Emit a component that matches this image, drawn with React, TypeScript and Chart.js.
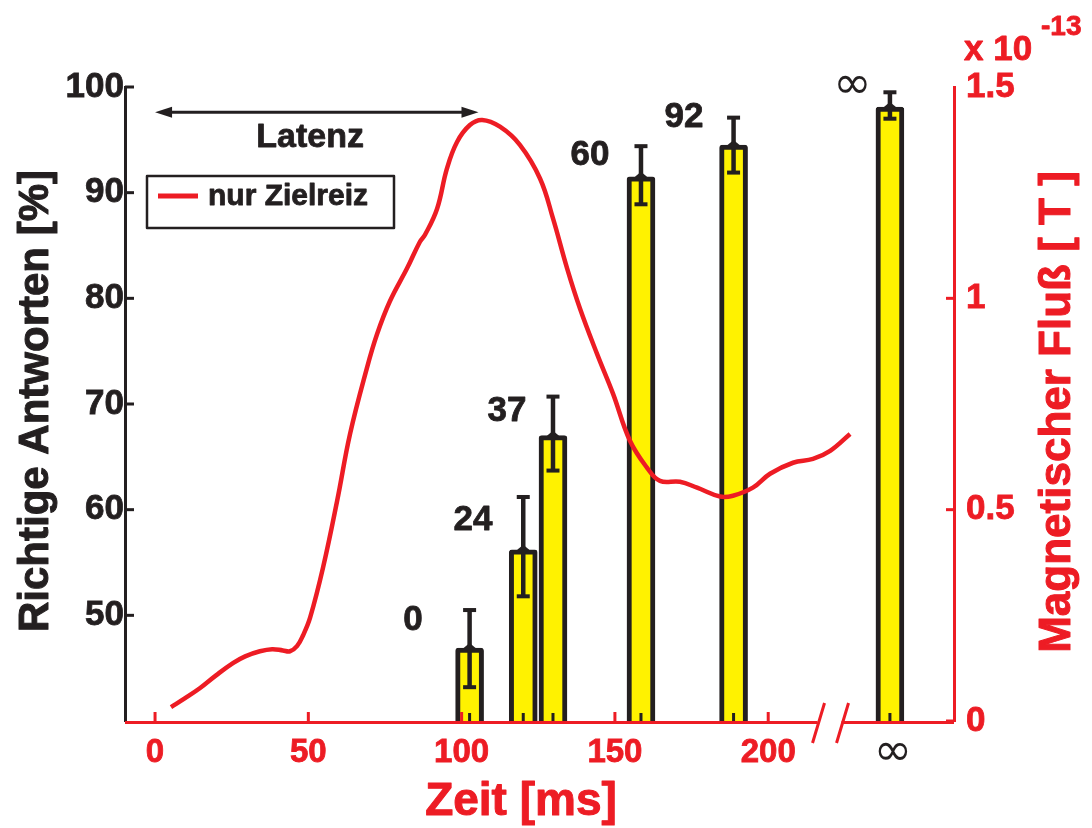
import React, { useEffect, useRef } from 'react';
import { Chart, registerables } from 'chart.js';

Chart.register(...registerables);

const RED = '#ed1c24';
const BLACK = '#231f20';
const YELLOW = '#fff200';
const FONT = '"Liberation Sans", Arial, Helvetica, sans-serif';

// Bars: correct answers [%] per SOA condition
const barLabels = ['0', '24', '37', '60', '92', '∞'];
const barX = [102.6, 120.1, 129.8, 158.5, 188.7, 239.7];
const barValues = [46.9, 56.2, 67.0, 91.5, 94.5, 98.1];
const errLow = [43.2, 51.8, 63.7, 88.9, 91.9, 97.0];
const errHigh = [50.5, 61.2, 70.7, 94.4, 97.1, 99.5];
const barLabelX = [84.1, 103.7, 114.8, 141.9, 172.5, 227.5];
const barLabelY = [49.5, 59.0, 69.3, 93.5, 97.1, 100.1];

// Magnetic flux curve (x 10^-13 T), "nur Zielreiz"
const fluxTime = [5.2, 9.8, 14.7, 19.9, 25.4, 29.4, 34.2, 38.2, 41.7, 44.0, 46.3, 48.3, 50.6, 54.8, 59.4, 63.6, 69.1, 72.4, 76.6, 82.2, 86.4, 88.1, 92.0, 95.2, 98.5, 102.7, 106.7, 112.5, 119.0, 125.6, 129.8, 134.4, 138.6, 144.2, 149.4, 154.9, 160.5, 164.7, 171.2, 176.8, 184.3, 188.5, 195.0, 200.6, 208.1, 214.6, 220.2, 226.7];
const fluxValue = [0.033, 0.054, 0.078, 0.108, 0.137, 0.153, 0.165, 0.170, 0.167, 0.165, 0.177, 0.203, 0.245, 0.363, 0.521, 0.679, 0.835, 0.915, 0.993, 1.071, 1.134, 1.151, 1.212, 1.307, 1.370, 1.410, 1.422, 1.406, 1.363, 1.283, 1.189, 1.071, 0.976, 0.868, 0.774, 0.663, 0.599, 0.568, 0.566, 0.552, 0.531, 0.533, 0.552, 0.585, 0.611, 0.620, 0.639, 0.679];

const xTicks = [0, 50, 100, 150, 200];
const yTicks = [50, 60, 70, 80, 90, 100];
const y2Ticks = [0, 0.5, 1, 1.5];
const y2TickMarks = [0, 0.5, 1];

const xBreak = 220;
const latencyStart = 0;
const latencyEnd = 105.5;
const latencyY = 97.6;
const latencyLabelX = 50.6;
const latencyLabelY = 95.2;

function boldText(ctx: any, text: string, x: number, y: number, w = 0.8) {
  ctx.lineWidth = w;
  ctx.lineJoin = 'round';
  ctx.strokeStyle = ctx.fillStyle;
  ctx.strokeText(text, x, y);
  ctx.fillText(text, x, y);
}

const overlay = {
  id: 'overlay',
  afterDatasetsDraw(chart: any) {
    const { ctx, chartArea: ca, scales } = chart;
    const x = scales.x, y = scales.y;
    ctx.save();
    barX.forEach((bx: number, i: number) => {
      ctx.fillStyle = BLACK;
      ctx.strokeStyle = BLACK;
      const px = x.getPixelForValue(bx);
      const lo = y.getPixelForValue(errLow[i]);
      const hi = y.getPixelForValue(errHigh[i]);
      ctx.lineWidth = 4.5;
      ctx.beginPath();
      ctx.moveTo(px, lo);
      ctx.lineTo(px, hi);
      ctx.stroke();
      ctx.fillRect(px - 6.5, hi - 2, 13, 4);
      ctx.fillRect(px - 6.5, lo - 2, 13, 4);
      const py = y.getPixelForValue(barValues[i]);
      ctx.beginPath();
      ctx.moveTo(px, py - 5);
      ctx.lineTo(px + 6, py);
      ctx.lineTo(px, py + 5);
      ctx.lineTo(px - 6, py);
      ctx.closePath();
      ctx.fill();
      ctx.fillRect(px - 1.5, ca.bottom - 8, 3, 8);
      // condition labels
      const lx = x.getPixelForValue(barLabelX[i]);
      const ly = y.getPixelForValue(barLabelY[i]);
      ctx.textAlign = 'center';
      ctx.textBaseline = 'middle';
      if (barLabels[i] === '∞') {
        ctx.font = '46px "DejaVu Sans", sans-serif';
        ctx.fillText(barLabels[i], lx, ly);
      } else {
        ctx.font = `bold 35px ${FONT}`;
        boldText(ctx, barLabels[i], lx, ly);
      }
    });
    ctx.restore();
  },
  afterDraw(chart: any) {
    const { ctx, chartArea: ca, scales } = chart;
    const x = scales.x, y = scales.y, y2 = scales.y2;
    ctx.save();
    // x axis line with break
    const bx = x.getPixelForValue(xBreak);
    ctx.strokeStyle = RED;
    ctx.lineWidth = 3;
    ctx.beginPath();
    ctx.moveTo(ca.left, ca.bottom + 1.5);
    ctx.lineTo(bx - 12, ca.bottom + 1.5);
    ctx.moveTo(bx + 12, ca.bottom + 1.5);
    ctx.lineTo(ca.right, ca.bottom + 1.5);
    ctx.stroke();
    ctx.lineWidth = 3;
    ctx.beginPath();
    ctx.moveTo(bx - 5, ca.bottom - 18);
    ctx.lineTo(bx - 17, ca.bottom + 22);
    ctx.moveTo(bx + 19, ca.bottom - 18);
    ctx.lineTo(bx + 7, ca.bottom + 22);
    ctx.stroke();
    // x ticks (inward)
    xTicks.forEach((v: number) => {
      const px = x.getPixelForValue(v);
      ctx.beginPath();
      ctx.moveTo(px, ca.bottom);
      ctx.lineTo(px, ca.bottom - 9);
      ctx.stroke();
    });
    // left y ticks (inward)
    ctx.strokeStyle = BLACK;
    yTicks.forEach((v: number) => {
      const py = y.getPixelForValue(v);
      ctx.beginPath();
      ctx.moveTo(ca.left, py);
      ctx.lineTo(ca.left + 9, py);
      ctx.stroke();
    });
    // right y ticks (inward)
    ctx.strokeStyle = RED;
    y2TickMarks.forEach((v: number) => {
      const py = y2.getPixelForValue(v);
      ctx.beginPath();
      ctx.moveTo(ca.right, py);
      ctx.lineTo(ca.right - 8, py);
      ctx.stroke();
    });
    // infinity label on x axis
    ctx.fillStyle = BLACK;
    ctx.textAlign = 'center';
    ctx.textBaseline = 'middle';
    ctx.font = '46px "DejaVu Sans", sans-serif';
    ctx.fillText('∞', x.getPixelForValue(barX[barX.length - 1]) + 3, ca.bottom + 32);

    // Latenz arrow
    const ax0 = x.getPixelForValue(latencyStart);
    const ax1 = x.getPixelForValue(latencyEnd);
    const ay = y.getPixelForValue(latencyY);
    ctx.strokeStyle = BLACK;
    ctx.fillStyle = BLACK;
    ctx.lineWidth = 3;
    ctx.beginPath();
    ctx.moveTo(ax0 + 10, ay);
    ctx.lineTo(ax1 - 10, ay);
    ctx.stroke();
    ctx.beginPath();
    ctx.moveTo(ax0, ay);
    ctx.lineTo(ax0 + 17, ay - 5.5);
    ctx.lineTo(ax0 + 17, ay + 5.5);
    ctx.closePath();
    ctx.fill();
    ctx.beginPath();
    ctx.moveTo(ax1, ay);
    ctx.lineTo(ax1 - 17, ay - 5.5);
    ctx.lineTo(ax1 - 17, ay + 5.5);
    ctx.closePath();
    ctx.fill();
    ctx.font = `bold 34px ${FONT}`;
    boldText(ctx, 'Latenz', x.getPixelForValue(latencyLabelX), y.getPixelForValue(latencyLabelY));

    // legend
    const lgL = ca.left + 22, lgT = ca.top + 89, lgW = 247, lgH = 52;
    ctx.lineWidth = 2.5;
    ctx.strokeStyle = BLACK;
    ctx.strokeRect(lgL, lgT, lgW, lgH);
    ctx.strokeStyle = RED;
    ctx.lineWidth = 5;
    ctx.beginPath();
    ctx.moveTo(lgL + 11, lgT + 20);
    ctx.lineTo(lgL + 51, lgT + 20);
    ctx.stroke();
    ctx.fillStyle = BLACK;
    ctx.textAlign = 'left';
    ctx.font = `bold 30px ${FONT}`;
    boldText(ctx, chart.data.datasets[0].label, lgL + 61, lgT + 21);

    // axis titles
    ctx.textAlign = 'center';
    ctx.textBaseline = 'middle';
    ctx.font = `bold 42px ${FONT}`;
    ctx.fillStyle = BLACK;
    ctx.save();
    ctx.translate(36, 401);
    ctx.rotate(-Math.PI / 2);
    boldText(ctx, 'Richtige Antworten [%]', 0, 0, 1);
    ctx.restore();

    ctx.fillStyle = RED;
    ctx.save();
    ctx.translate(1058, 412);
    ctx.rotate(-Math.PI / 2);
    ctx.font = `bold 44px ${FONT}`;
    boldText(ctx, 'Magnetischer Fluß [ T ]', 0, 0, 1);
    ctx.restore();

    ctx.font = `bold 46px ${FONT}`;
    boldText(ctx, 'Zeit [ms]', 521, 802, 1);

    // exponent
    ctx.textAlign = 'left';
    ctx.textBaseline = 'alphabetic';
    ctx.font = `bold 35px ${FONT}`;
    boldText(ctx, 'x 10', 964, 60);
    ctx.font = `bold 28px ${FONT}`;
    boldText(ctx, '-13', 1041, 35);
    ctx.restore();
  },
};

export default function App() {
  const ref = useRef<HTMLCanvasElement | null>(null);
  useEffect(() => {
    if (!ref.current) return;
    const chart = new Chart(ref.current, {
      type: 'bar',
      data: {
        datasets: [
          {
            type: 'line',
            label: 'nur Zielreiz',
            data: fluxTime.map((t, i) => ({ x: t, y: fluxValue[i] })),
            yAxisID: 'y2',
            borderColor: RED,
            borderWidth: 4.5,
            pointRadius: 0,
            tension: 0.4,
            fill: false,
          } as any,
          {
            type: 'bar',
            label: 'Richtige Antworten',
            data: barX.map((bx, i) => ({ x: bx, y: barValues[i] })),
            yAxisID: 'y',
            backgroundColor: YELLOW,
            borderColor: BLACK,
            borderWidth: 5,
            borderSkipped: 'bottom',
            borderRadius: { topLeft: 3, topRight: 3, bottomLeft: 0, bottomRight: 0 },
            barThickness: 28,
            grouped: false,
            base: 40,
          } as any,
        ],
      },
      options: {
        animation: false,
        responsive: false,
        events: [],
        layout: { padding: { top: 87, left: 0, right: 0, bottom: 0 } },
        plugins: { legend: { display: false }, tooltip: { enabled: false }, title: { display: false } },
        scales: {
          x: {
            type: 'linear',
            min: -9.8,
            max: 260.6,
            offset: false,
            grid: { display: false, drawTicks: false },
            border: { display: false },
            afterBuildTicks: (s: any) => { s.ticks = xTicks.map((v) => ({ value: v })); },
            afterFit: (s: any) => { s.height = 107; },
            ticks: {
              color: RED,
              padding: 12,
              maxRotation: 0,
              autoSkip: false,
              textStrokeColor: RED,
              textStrokeWidth: 0.8,
              font: { family: FONT, size: 33, weight: 'bold' },
            },
          },
          y: {
            type: 'linear',
            position: 'left',
            min: 40,
            max: 100,
            grid: { display: false, drawTicks: false },
            border: { display: true, color: BLACK, width: 3 },
            afterBuildTicks: (s: any) => { s.ticks = yTicks.map((v) => ({ value: v })); },
            afterFit: (s: any) => { s.width = 125; },
            ticks: {
              color: BLACK,
              padding: 1,
              textStrokeColor: BLACK,
              textStrokeWidth: 0.8,
              font: { family: FONT, size: 35, weight: 'bold' },
            },
          },
          y2: {
            type: 'linear',
            position: 'right',
            min: 0,
            max: 1.5,
            grid: { display: false, drawTicks: false },
            border: { display: true, color: RED, width: 3 },
            afterBuildTicks: (s: any) => { s.ticks = y2Ticks.map((v) => ({ value: v })); },
            afterFit: (s: any) => { s.width = 138; },
            ticks: {
              color: RED,
              padding: 12,
              textStrokeColor: RED,
              textStrokeWidth: 0.8,
              callback: (v: any) => String(v),
              font: { family: FONT, size: 35, weight: 'bold' },
            },
          },
        },
      } as any,
      plugins: [overlay],
    });
    return () => chart.destroy();
  }, []);
  return (
    <div style={{ position: 'absolute', left: 0, top: 0, width: 1092, height: 828, background: '#fff' }}>
      <canvas ref={ref} width={1092} height={828} />
    </div>
  );
}
